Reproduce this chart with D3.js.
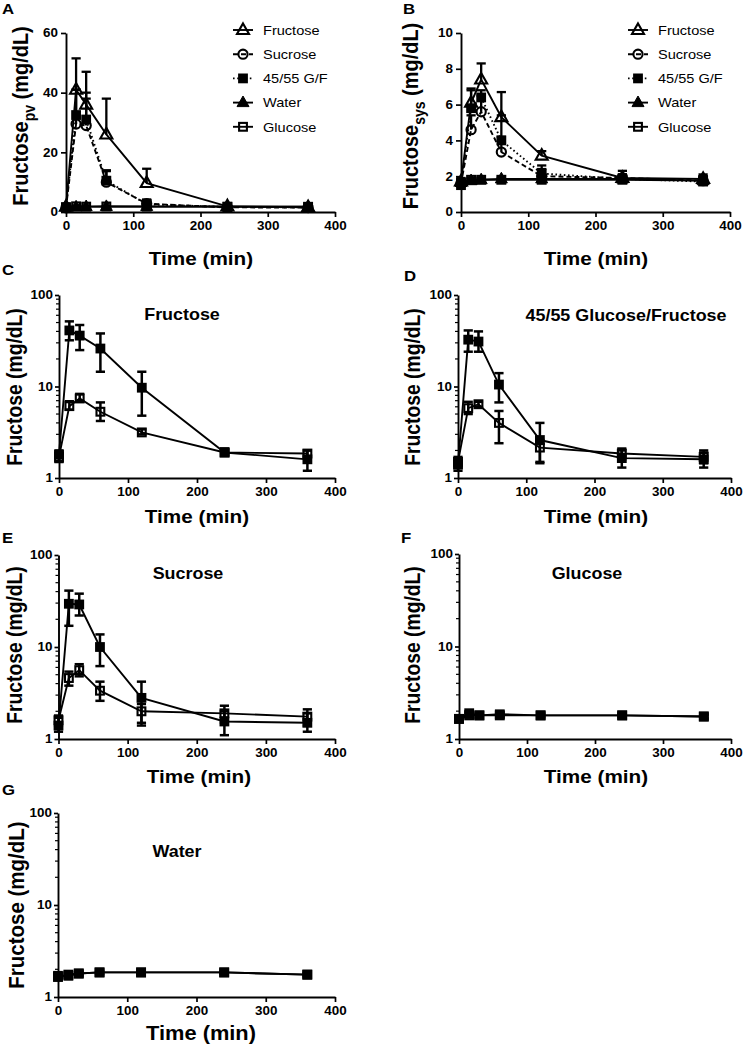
<!DOCTYPE html>
<html><head><meta charset="utf-8">
<script src="https://cdn.jsdelivr.net/npm/d3@7"></script>
<style>
body{margin:0;background:#fff}
svg{display:block}
text{font-family:"Liberation Sans",Arial,Helvetica,sans-serif;fill:#000}
</style>
</head><body>
<svg id="chart" width="746" height="1048"></svg>
<script>
// ---------------- DATA ----------------
const time = [0, 15, 30, 60, 120, 240, 360];
const xTicks = [0, 100, 200, 300, 400];
const linTicksA = [0, 20, 40, 60];
const linTicksB = [0, 2, 4, 6, 8, 10];
const logTicks = [1, 10, 100];
const legendNames = ["Fructose", "Sucrose", "45/55 G/F", "Water", "Glucose"];
const panelTitles = ["Fructose", "45/55 Glucose/Fructose", "Sucrose", "Glucose", "Water"];
const panelLetters = ["A", "B", "C", "D", "E", "F", "G"];

// portal vein (pv) fructose, mg/dL
const pvFructose   = [1.8, 41, 36, 26, 9.7, 1.9, 1.6];
const pvFructoseLo = [1.5, 32, 25, 14.5, 4.8, 1.8, 1.2];
const pvFructoseHi = [2.0, 51.5, 47, 38, 14.5, 2.0, 2.0];
const pvSucrose    = [1.4, 29.5, 29, 10, 2.8, 1.55, 1.5];
const pvSucroseLo  = [1.2, 17, 22, 6.2, 1.5, 1.1, 1.2];
const pvSucroseHi  = [1.7, 41, 38, 13.7, 4.2, 2.0, 1.9];
const pvGF         = [1.4, 32.5, 31, 10.5, 2.6, 1.65, 1.6];
const pvGFLo       = [1.2, 24, 24, 6.7, 1.45, 1.3, 1.3];
const pvGFHi       = [1.6, 41, 40, 14, 4.0, 2.0, 1.9];
const pvWater      = [1.7, 1.7, 1.8, 1.85, 1.85, 1.85, 1.75];
const pvWaterLo    = [1.6, 1.6, 1.7, 1.78, 1.78, 1.78, 1.68];
const pvWaterHi    = [1.8, 1.8, 1.9, 1.92, 1.92, 1.92, 1.82];
const pvGlucose    = [1.65, 1.9, 1.8, 1.85, 1.8, 1.8, 1.75];
const pvGlucoseLo  = [1.55, 1.78, 1.68, 1.75, 1.72, 1.72, 1.66];
const pvGlucoseHi  = [1.75, 2.0, 1.9, 1.95, 1.88, 1.88, 1.84];

// systemic (sys) fructose, mg/dL
const sysFructose   = [1.7, 6.1, 7.4, 5.3, 3.15, 1.9, 1.85];
const sysFructoseLo = [1.5, 5.6, 6.9, 4.2, 3.0, 1.8, 1.7];
const sysFructoseHi = [1.9, 6.9, 8.3, 6.7, 3.4, 2.1, 2.0];
const sysSucrose    = [1.6, 4.6, 5.6, 3.35, 2.0, 1.9, 1.75];
const sysSucroseLo  = [1.4, 3.8, 4.8, 2.6, 1.4, 1.5, 1.4];
const sysSucroseHi  = [1.8, 5.4, 6.5, 4.2, 2.4, 2.3, 2.1];
const sysGF         = [1.5, 5.8, 6.4, 4.0, 2.15, 1.85, 1.7];
const sysGFLo       = [1.3, 5.0, 6.0, 2.4, 1.5, 1.6, 1.45];
const sysGFHi       = [1.7, 6.8, 6.8, 5.4, 2.6, 2.1, 2.0];
const sysWater      = [1.65, 1.75, 1.8, 1.85, 1.85, 1.85, 1.75];
const sysWaterLo    = [1.55, 1.66, 1.72, 1.78, 1.78, 1.78, 1.68];
const sysWaterHi    = [1.75, 1.84, 1.88, 1.92, 1.92, 1.92, 1.82];
const sysGlucose    = [1.65, 1.8, 1.8, 1.8, 1.8, 1.8, 1.75];
const sysGlucoseLo  = [1.55, 1.7, 1.7, 1.72, 1.72, 1.72, 1.66];
const sysGlucoseHi  = [1.75, 1.9, 1.9, 1.88, 1.88, 1.88, 1.84];

// ---------------- DRAWING ----------------
const SX = 1.12;           // horizontal stretch of the original figure
const svg = d3.select("#chart");

function hText(g, x, y, str, size, weight, anchor) {
  return g.append("text")
    .attr("transform", `translate(${x},${y}) scale(${SX},1)`)
    .attr("font-size", size).attr("font-weight", weight)
    .attr("text-anchor", anchor || "start").text(str);
}
function vLabel(g, x, y, size, sub) {
  const t = g.append("text")
    .attr("transform", `translate(${x},${y}) scale(${SX},1) rotate(-90)`)
    .attr("font-size", size).attr("font-weight", "bold").attr("text-anchor", "middle");
  t.append("tspan").text("Fructose");
  if (sub) {
    t.append("tspan").attr("font-size", size * 0.7).attr("dy", size * 0.3).text(sub);
    t.append("tspan").attr("dy", -size * 0.3).text(" (mg/dL)");
  } else {
    t.append("tspan").text(" (mg/dL)");
  }
}
function marker(g, type, cx, cy, filled) {
  if (type === "tri") {
    g.append("path")
      .attr("d", `M${cx},${cy - 6.6}L${cx + 6},${cy + 4}L${cx - 6},${cy + 4}Z`)
      .attr("fill", filled ? "#000" : "none").attr("stroke", "#000")
      .attr("stroke-width", filled ? 1 : 2.1).attr("stroke-linejoin", "miter");
  } else if (type === "circ") {
    g.append("circle").attr("cx", cx).attr("cy", cy).attr("r", 4.6)
      .attr("fill", filled ? "#000" : "none").attr("stroke", "#000").attr("stroke-width", 2.1);
  } else {
    const h = filled ? 4.9 : 3.9;
    g.append("rect").attr("x", cx - h).attr("y", cy - h).attr("width", 2 * h).attr("height", 2 * h)
      .attr("fill", filled ? "#000" : "none").attr("stroke", filled ? "none" : "#000")
      .attr("stroke-width", 2.1);
  }
}
function styleAxis(a) {
  a.select(".domain").attr("stroke-width", 1.9);
  a.selectAll(".tick line").attr("stroke-width", 1.7);
  a.selectAll(".tick text").attr("font-size", 12).attr("font-weight", "bold")
    .attr("font-family", '"Liberation Sans",Arial,sans-serif');
}
function xAxis(g, x, yb) {
  const a = g.append("g").attr("transform", `translate(0,${yb})`)
    .call(d3.axisBottom(x).tickValues(xTicks).tickSize(5).tickPadding(4).tickSizeOuter(0));
  styleAxis(a);
  a.selectAll(".tick text").attr("transform", `scale(${SX},1)`);
}
function yAxis(g, y, x0, ticks, fmt, ts, pad) {
  const a = g.append("g").attr("transform", `translate(${x0},0)`)
    .call(d3.axisLeft(y).tickValues(ticks).tickFormat(fmt).tickSize(ts).tickPadding(pad).tickSizeOuter(0));
  styleAxis(a);
  a.selectAll(".tick text").attr("x", -(ts + pad) / SX).attr("transform", `scale(${SX},1)`);
  return a;
}

// ---------- linear panels A, B ----------
function linearPanel(p) {
  const g = svg.append("g");
  const x = d3.scaleLinear().domain([0, 400]).range([p.x0, p.x1]);
  const y = d3.scaleLinear().domain([0, p.ymax]).range([p.yb, p.yt]);
  const line = d3.line().x((d, i) => x(time[i])).y(d => y(d));
  p.series.forEach(s => {
    g.append("path").datum(s.v).attr("d", line).attr("fill", "none")
      .attr("stroke", "#000").attr("stroke-width", 1.9)
      .attr("stroke-dasharray", s.dash || null);
  });
  p.series.forEach(s => {
    s.v.forEach((v, i) => {
      const cx = x(time[i]);
      g.append("line").attr("x1", cx).attr("x2", cx).attr("y1", y(v)).attr("y2", y(s.hi[i]))
        .attr("stroke", "#000").attr("stroke-width", 2.3);
      g.append("line").attr("x1", cx - 4.6).attr("x2", cx + 4.6).attr("y1", y(s.hi[i])).attr("y2", y(s.hi[i]))
        .attr("stroke", "#000").attr("stroke-width", 2.3);
    });
    s.v.forEach((v, i) => marker(g, s.sym, x(time[i]), y(v), s.filled));
  });
  xAxis(g, x, p.yb);
  yAxis(g, y, p.x0, p.yticks, d3.format("d"), 5, 3);
  // legend
  p.legend.forEach((s, k) => {
    const ly = p.ly0 + k * 24.2;
    g.append("line").attr("x1", p.lx - 10).attr("x2", p.lx + 10).attr("y1", ly).attr("y2", ly)
      .attr("stroke", "#000").attr("stroke-width", 1.9).attr("stroke-dasharray", s.dash || null);
    marker(g, s.sym, p.lx, ly, s.filled);
    hText(g, p.lx + 20, ly + 4.8, s.name, 13, "normal", "start");
  });
  vLabel(g, p.labx, p.laby, 20, p.sub);
  hText(g, p.tx, p.ty, "Time (min)", 18.5, "bold", "middle");
  hText(g, p.letx, p.lety, p.letter, 15, "bold", "start");
}

function mk(name, sym, filled, dash, v, hi) { return {name, sym, filled, dash, v, hi}; }

// drawing order: water, glucose, 45/55, sucrose, fructose
const seriesA = [
  mk(legendNames[3], "tri", true, null, pvWater, pvWaterHi),
  mk(legendNames[4], "sq", false, null, pvGlucose, pvGlucoseHi),
  mk(legendNames[2], "sq", true, "1.6,2.6", pvGF, pvGFHi),
  mk(legendNames[1], "circ", false, "5,3", pvSucrose, pvSucroseHi),
  mk(legendNames[0], "tri", false, null, pvFructose, pvFructoseHi)
];
const seriesB = [
  mk(legendNames[3], "tri", true, null, sysWater, sysWaterHi),
  mk(legendNames[4], "sq", false, null, sysGlucose, sysGlucoseHi),
  mk(legendNames[2], "sq", true, "1.6,2.6", sysGF, sysGFHi),
  mk(legendNames[1], "circ", false, "5,3", sysSucrose, sysSucroseHi),
  mk(legendNames[0], "tri", false, null, sysFructose, sysFructoseHi)
];
const legendOrder = s => [s[4], s[3], s[2], s[0], s[1]];

linearPanel({x0: 66, x1: 335, yb: 212, yt: 33, ymax: 60, yticks: linTicksA, series: seriesA,
  legend: legendOrder(seriesA), lx: 243, ly0: 30, labx: 28, laby: 116, sub: "pv",
  tx: 201, ty: 265, letx: 2, lety: 14, letter: panelLetters[0]});
linearPanel({x0: 461, x1: 730, yb: 212, yt: 33, ymax: 10, yticks: linTicksB, series: seriesB,
  legend: legendOrder(seriesB), lx: 638, ly0: 30, labx: 418, laby: 116, sub: "sys",
  tx: 596, ty: 265, letx: 403, lety: 14, letter: panelLetters[1]});

// ---------- log panels C-G ----------
function logPanel(p) {
  const g = svg.append("g");
  const x = d3.scaleLinear().domain([0, 400]).range([p.x0, p.x1]);
  const y = d3.scaleLog().domain([1, 100]).range([p.yb, p.yt]);
  const line = d3.line().x((d, i) => x(time[i])).y(d => y(d));
  const sets = [
    {v: p.pv, lo: p.pvLo, hi: p.pvHi, filled: true},
    {v: p.sys, lo: p.sysLo, hi: p.sysHi, filled: false}
  ];
  sets.forEach(s => {
    g.append("path").datum(s.v).attr("d", line).attr("fill", "none")
      .attr("stroke", "#000").attr("stroke-width", 1.9);
  });
  sets.forEach(s => {
    s.v.forEach((v, i) => {
      const cx = x(time[i]);
      g.append("line").attr("x1", cx).attr("x2", cx).attr("y1", y(s.lo[i])).attr("y2", y(s.hi[i]))
        .attr("stroke", "#000").attr("stroke-width", 2.5);
      [s.lo[i], s.hi[i]].forEach(e => {
        g.append("line").attr("x1", cx - 4.6).attr("x2", cx + 4.6).attr("y1", y(e)).attr("y2", y(e))
          .attr("stroke", "#000").attr("stroke-width", 2.5);
      });
    });
    s.v.forEach((v, i) => marker(g, "sq", x(time[i]), y(v), s.filled));
  });
  xAxis(g, x, p.yb);
  yAxis(g, y, p.x0, logTicks, d3.format("d"), 4, 2);
  // minor ticks
  const minors = [];
  [1, 10].forEach(dec => { for (let k = 2; k <= 9; k++) minors.push(dec * k); });
  g.selectAll(null).data(minors).enter().append("line")
    .attr("x1", p.x0 - 3).attr("x2", p.x0).attr("y1", d => y(d)).attr("y2", d => y(d))
    .attr("stroke", "#000").attr("stroke-width", 1.2);
  vLabel(g, p.labx, p.laby, p.lsize || 19.3, null);
  hText(g, p.tx, p.ty, "Time (min)", p.tsize || 18.5, "bold", "middle");
  hText(g, p.titx, p.tity, p.title, 16, "bold", "middle");
  hText(g, p.letx, p.lety, p.letter, 15, "bold", "start");
}

logPanel({x0: 59, x1: 335, yb: 478, yt: 295, pv: pvFructose, pvLo: pvFructoseLo, pvHi: pvFructoseHi,
  sys: sysFructose, sysLo: sysFructoseLo, sysHi: sysFructoseHi, labx: 22, laby: 387,
  tx: 197, ty: 523, titx: 182, tity: 320, title: panelTitles[0], letx: 2, lety: 275, letter: panelLetters[2]});
logPanel({x0: 458, x1: 731, yb: 478, yt: 295, pv: pvGF, pvLo: pvGFLo, pvHi: pvGFHi,
  sys: sysGF, sysLo: sysGFLo, sysHi: sysGFHi, labx: 420, laby: 387,
  tx: 596, ty: 523, titx: 626, tity: 321, title: panelTitles[1], letx: 404, lety: 281, letter: panelLetters[3]});
logPanel({x0: 58.5, x1: 335, yb: 739, yt: 555, pv: pvSucrose, pvLo: pvSucroseLo, pvHi: pvSucroseHi,
  sys: sysSucrose, sysLo: sysSucroseLo, sysHi: sysSucroseHi, labx: 22, laby: 645,
  tx: 199, ty: 783, titx: 188, tity: 579, title: panelTitles[2], letx: 2, lety: 543, letter: panelLetters[4]});
logPanel({x0: 459, x1: 731, yb: 739, yt: 554, pv: pvGlucose, pvLo: pvGlucoseLo, pvHi: pvGlucoseHi,
  sys: sysGlucose, sysLo: sysGlucoseLo, sysHi: sysGlucoseHi, labx: 420, laby: 645,
  tx: 596, ty: 783, titx: 587, tity: 579, title: panelTitles[3], letx: 401, lety: 543, letter: panelLetters[5]});
logPanel({x0: 58, x1: 335, yb: 997, yt: 813, pv: pvWater, pvLo: pvWaterLo, pvHi: pvWaterHi,
  sys: sysWater, sysLo: sysWaterLo, sysHi: sysWaterHi, labx: 24, laby: 905, lsize: 20.5, tsize: 19.5,
  tx: 201, ty: 1040, titx: 177, tity: 857, title: panelTitles[4], letx: 2, lety: 795, letter: panelLetters[6]});
</script>
</body></html>
